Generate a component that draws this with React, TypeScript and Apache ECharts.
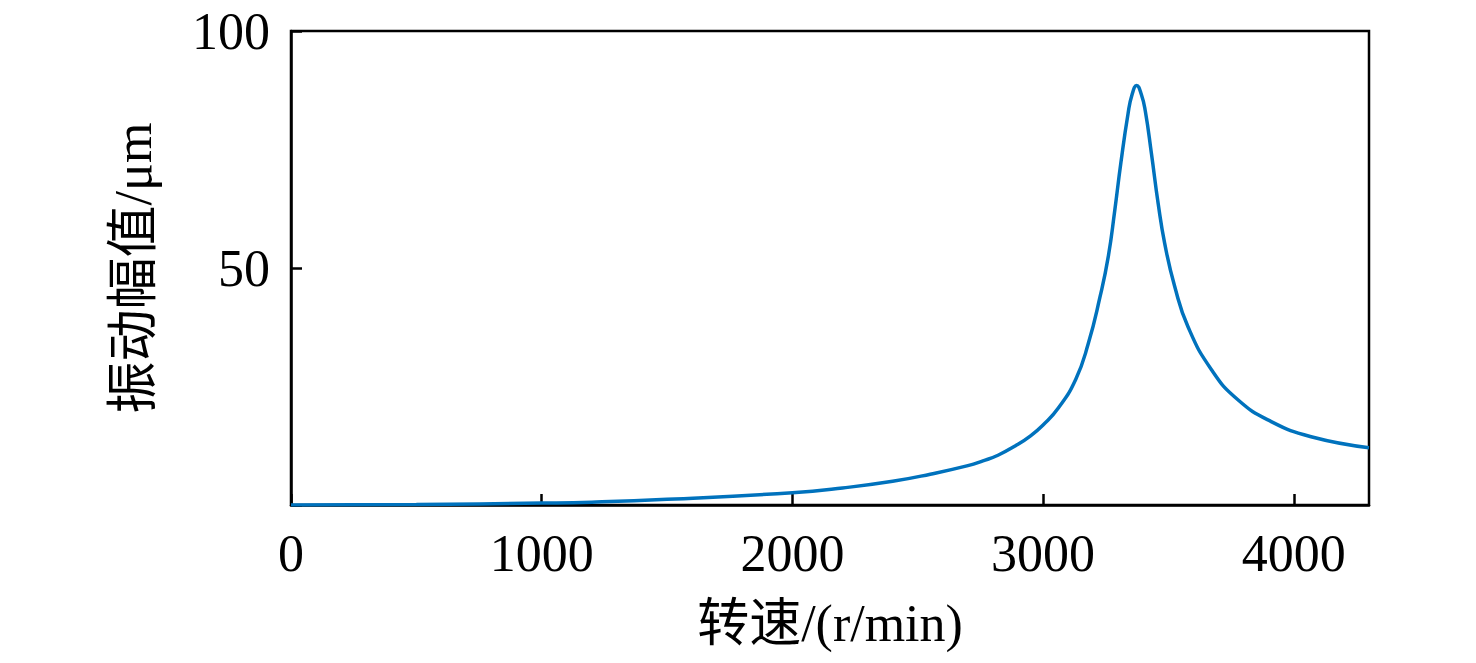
import React, { useEffect, useRef } from "react";
import * as echarts from "echarts";

const speeds = [0, 500, 1000, 1200, 1500, 2000, 2200, 2400, 2550, 2700, 2760, 2820, 2890, 2950, 3000, 3060, 3130, 3180, 3227, 3260, 3286, 3310, 3339, 3355, 3373, 3392, 3408, 3432, 3459, 3485, 3525, 3578, 3671, 3777, 3910, 4069, 4300];
const amplitudes = [0, 0.1, 0.4, 0.6, 1.2, 2.6, 3.6, 5.0, 6.5, 8.3, 9.3, 10.5, 12.5, 14.6, 16.9, 20.4, 26.5, 34.0, 43.9, 52.4, 62.2, 72.1, 82.6, 86.6, 88.5, 86.6, 83.0, 74.2, 63.6, 55.2, 46.1, 37.6, 28.6, 22.2, 17.6, 14.4, 12.1];
const xTicks = [0, 1000, 2000, 3000, 4000];
const yTicks = [50, 100];
const xName = "转速/(r/min)";
const yName = "振动幅值/μm";

const FONT = "'Liberation Serif', 'Times New Roman', 'Noto Sans CJK SC', serif";

export default function App() {
  const ref = useRef<HTMLDivElement>(null);
  useEffect(() => {
    document.body.style.margin = "0";
    const chart = echarts.init(ref.current!, undefined, { renderer: "svg" });
    const data = speeds.map((s, i) => [s, amplitudes[i]]);
    chart.setOption({
      animation: false,
      backgroundColor: "#fff",
      grid: {
        left: 291,
        right: 107,
        top: 31,
        bottom: 158,
        show: true,
        borderColor: "#000",
        borderWidth: 2.5,
        containLabel: false,
        outerBoundsMode: "none",
      },
      xAxis: {
        type: "value",
        min: 0,
        max: 4300,
        interval: 1000,
        name: xName,
        nameLocation: "middle",
        nameGap: 92,
        nameTextStyle: { fontFamily: FONT, fontSize: 52, color: "#000" },
        axisLine: { show: true, lineStyle: { color: "#000", width: 2.5 } },
        axisTick: { show: true, inside: true, length: 11, lineStyle: { color: "#000", width: 2.5 } },
        axisLabel: {
          fontFamily: FONT,
          fontSize: 52,
          color: "#000",
          margin: 22,
          showMaxLabel: false,
          formatter: (v: number) => (xTicks.includes(v) ? String(v) : ""),
        },
        splitLine: { show: false },
      },
      yAxis: {
        type: "value",
        min: 0,
        max: 100,
        interval: 50,
        name: yName,
        nameLocation: "middle",
        nameGap: 132,
        nameTextStyle: { fontFamily: FONT, fontSize: 52, color: "#000" },
        axisLine: { show: true, lineStyle: { color: "#000", width: 2.5 } },
        axisTick: { show: true, inside: true, length: 11, lineStyle: { color: "#000", width: 2.5 } },
        axisLabel: {
          fontFamily: FONT,
          fontSize: 52,
          color: "#000",
          margin: 21,
          formatter: (v: number) => (yTicks.includes(v) ? String(v) : ""),
        },
        splitLine: { show: false },
      },
      series: [
        {
          type: "line",
          data,
          smooth: 0.5,
          showSymbol: false,
          lineStyle: { color: "#0072BD", width: 3.5 },
          itemStyle: { color: "#0072BD" },
        },
      ],
    });
    return () => chart.dispose();
  }, []);
  return <div ref={ref} style={{ width: 1476, height: 663 }} />;
}
